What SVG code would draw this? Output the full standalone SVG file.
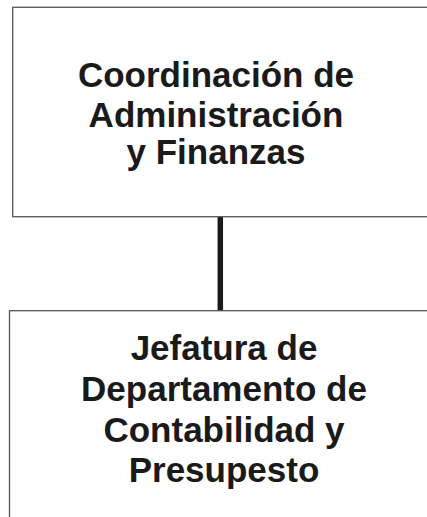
<svg xmlns="http://www.w3.org/2000/svg" width="427" height="517" viewBox="0 0 427 517">
<style>
.box{fill:#fff;stroke:#555;stroke-width:1.3}
.t{font-family:"Liberation Sans",Arial,sans-serif;font-weight:bold;font-size:35px;fill:#1a1a1a;text-anchor:middle}
.conn{stroke:#1a1a1a;stroke-width:5.5;fill:none}
</style>
<rect width="427" height="517" fill="#fff"/>
<g id="connectors">
<line class="conn" x1="220.3" y1="216.7" x2="220.3" y2="310.7"/>
</g>
<g id="n1">
<rect class="box" x="12.7" y="7.3" width="430" height="209.4"/>
<text class="t" x="216" y="87">Coordinación de</text>
<text class="t" x="216" y="127">Administración</text>
<text class="t" x="216" y="164">y Finanzas</text>
</g>
<g id="n2">
<rect class="box" x="9.5" y="310.7" width="430" height="230"/>
<text class="t" x="224" y="360">Jefatura de</text>
<text class="t" x="224" y="400.5">Departamento de</text>
<text class="t" x="224" y="441.5">Contabilidad y</text>
<text class="t" x="224" y="481.5">Presupesto</text>
</g>
</svg>
